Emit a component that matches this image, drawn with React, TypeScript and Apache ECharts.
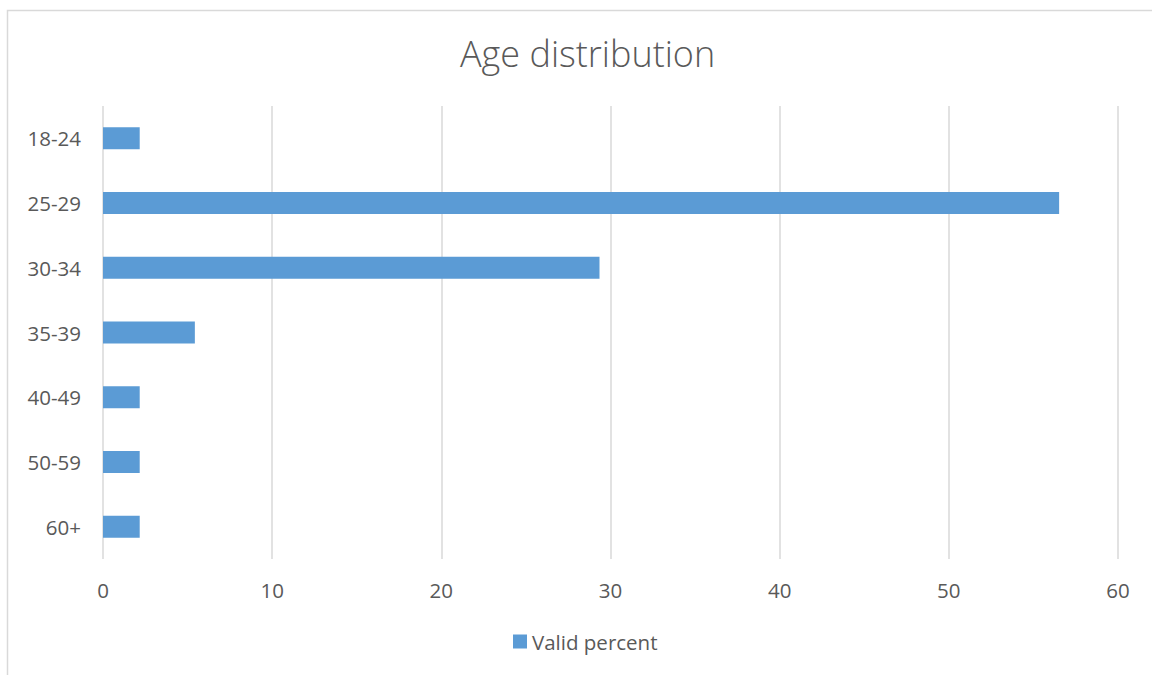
import React, { useEffect, useRef } from "react";
import * as echarts from "echarts";

const categories = ["18-24", "25-29", "30-34", "35-39", "40-49", "50-59", "60+"];
const validPercent = [2.17, 56.52, 29.35, 5.43, 2.17, 2.17, 2.17];
const seriesName = "Valid percent";
const xTicks = { min: 0, max: 60, interval: 10 };

export default function App() {
  const ref = useRef<HTMLDivElement>(null);

  useEffect(() => {
    document.body.style.margin = "0";
    const chart = echarts.init(ref.current!, null, { renderer: "svg" });
    const font = "'Open Sans', Lato, sans-serif";
    chart.setOption({
      animation: false,
      backgroundColor: "#ffffff",
      title: {
        text: "Age distribution",
        left: 455,
        top: 30,
        textStyle: { fontFamily: font, fontSize: 36, fontWeight: 300, color: "#595959" },
      },
      graphic: [
        {
          type: "rect",
          shape: { x: 7.5, y: 10.5, width: 1200, height: 700 },
          style: { fill: "none", stroke: "#d9d9d9", lineWidth: 1.5 },
          silent: true,
        },
      ],
      legend: {
        bottom: 18,
        left: 508,
        itemWidth: 14,
        itemHeight: 14,
        itemGap: 6,
        icon: "rect",
        textStyle: { fontFamily: font, fontSize: 20.5, color: "#595959" },
        data: [seriesName],
      },
      grid: { left: 103, right: 34, top: 106, bottom: 116 },
      xAxis: {
        type: "value",
        min: xTicks.min,
        max: xTicks.max,
        interval: xTicks.interval,
        axisLine: { show: false },
        axisTick: { show: false },
        axisLabel: { fontFamily: font, fontSize: 20.5, color: "#595959", margin: 20 },
        splitLine: { lineStyle: { color: "#d9d9d9", width: 1.5 } },
      },
      yAxis: {
        type: "category",
        data: categories,
        inverse: true,
        axisLine: { show: false },
        axisTick: { show: false },
        axisLabel: { fontFamily: font, fontSize: 20.5, color: "#595959", margin: 22 },
      },
      series: [
        {
          name: seriesName,
          type: "bar",
          data: validPercent,
          barWidth: 22,
          itemStyle: { color: "#5b9bd5" },
        },
      ],
    });
    return () => chart.dispose();
  }, []);

  return <div ref={ref} style={{ width: 1152, height: 675 }} />;
}
